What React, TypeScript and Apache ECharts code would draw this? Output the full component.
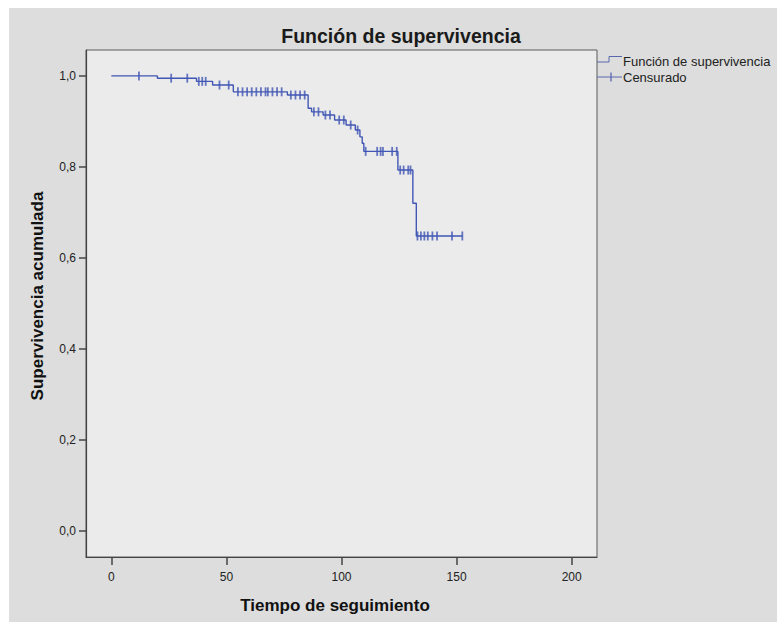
import React, { useEffect, useRef } from "react";
import * as echarts from "echarts";

// Kaplan-Meier step points: time at which survival changes, and survival after the change
const stepTimes = [0, 20, 37, 44, 53, 76.5, 85.5, 87, 92, 97, 102, 106, 108, 109, 109.7, 124.5, 131, 132.5, 152.5];
const stepSurvival = [1, 0.995, 0.988, 0.98, 0.965, 0.958, 0.929, 0.921, 0.914, 0.903, 0.892, 0.881, 0.866, 0.852, 0.834, 0.793, 0.72, 0.648, 0.648];

// Censored observation times
const censorTimes = [
  12, 26, 33, 38, 39.5, 41, 47, 51, 55, 57, 59, 61, 63, 65, 67, 68, 70, 72, 74,
  78, 80, 82, 84, 88, 90, 93, 95, 99, 101, 104, 107, 110.5, 115.5, 117, 118, 122,
  124, 125.5, 127, 129, 130, 133, 134.5, 136, 137.5, 139.5, 141.5, 148, 152.5,
];

const xTicks = [0, 50, 100, 150, 200];
const yTicks = [0, 0.2, 0.4, 0.6, 0.8, 1.0];

const FONT = "Liberation Sans, Arial, sans-serif";
const BLUE = "#4257b5";

function survivalAt(t: number): number {
  let s = stepSurvival[0];
  for (let i = 0; i < stepTimes.length; i++) {
    if (stepTimes[i] <= t) s = stepSurvival[i];
  }
  return s;
}

export default function App() {
  const ref = useRef<HTMLDivElement>(null);

  useEffect(() => {
    if (!ref.current) return;
    const chart = echarts.init(ref.current, undefined, { renderer: "svg" });
    const lineData = stepTimes.map((t, i) => [t, stepSurvival[i]]);
    const censorData = censorTimes.map((t) => [t, survivalAt(t)]);

    chart.setOption({
      animation: false,
      backgroundColor: "transparent",
      grid: {
        left: 86,
        top: 50,
        right: 180,
        bottom: 65,
        show: true,
        backgroundColor: "#ebebeb",
        borderColor: "#5a5a5a",
        borderWidth: 1,
      },
      xAxis: {
        type: "value",
        min: -11,
        max: 211,
        splitLine: { show: false },
        axisLine: { show: true, onZero: false, lineStyle: { color: "#444", width: 1.2 } },
        axisTick: {
          show: true,
          customValues: xTicks,
          length: 8,
          lineStyle: { color: "#444", width: 1.5 },
        },
        axisLabel: {
          customValues: xTicks,
          margin: 14,
          color: "#222",
          fontSize: 12,
          fontFamily: FONT,
        },
      },
      yAxis: {
        type: "value",
        min: -0.058,
        max: 1.057,
        splitLine: { show: false },
        axisLine: { show: true, onZero: false, lineStyle: { color: "#444", width: 1.2 } },
        axisTick: {
          show: true,
          customValues: yTicks,
          length: 7,
          lineStyle: { color: "#444", width: 1.5 },
        },
        axisLabel: {
          customValues: yTicks,
          margin: 10,
          color: "#222",
          fontSize: 12,
          fontFamily: FONT,
          formatter: (v: number) => v.toFixed(1).replace(".", ","),
        },
      },
      series: [
        {
          type: "line",
          name: "Función de supervivencia",
          data: lineData,
          step: "end",
          showSymbol: false,
          symbol: "none",
          lineStyle: { color: BLUE, width: 1.4 },
          z: 3,
        },
        {
          type: "scatter",
          name: "Censurado",
          data: censorData,
          symbol: "rect",
          symbolSize: [1.8, 9],
          itemStyle: { color: BLUE },
          z: 4,
        },
      ],
      graphic: [
        {
          type: "text",
          x: 401,
          y: 36,
          style: {
            text: "Función de supervivencia",
            fontSize: 19.5,
            fontWeight: "bold",
            fontFamily: FONT,
            fill: "#1a1a1a",
            align: "center",
            verticalAlign: "middle",
          },
        },
        {
          type: "text",
          x: 335,
          y: 605,
          style: {
            text: "Tiempo de seguimiento",
            fontSize: 17,
            fontWeight: "bold",
            fontFamily: FONT,
            fill: "#111",
            align: "center",
            verticalAlign: "middle",
          },
        },
        {
          type: "text",
          x: 37,
          y: 296,
          rotation: Math.PI / 2,
          style: {
            text: "Supervivencia acumulada",
            fontSize: 17,
            fontWeight: "bold",
            fontFamily: FONT,
            fill: "#111",
            align: "center",
            verticalAlign: "middle",
          },
        },
        {
          type: "polyline",
          shape: { points: [[597, 62], [609, 62], [609, 56.5], [622, 56.5]] },
          style: { stroke: "#5a68b0", lineWidth: 1, fill: "none" },
        },
        {
          type: "line",
          shape: { x1: 597, y1: 77, x2: 622, y2: 77 },
          style: { stroke: "#5a68b0", lineWidth: 1 },
        },
        {
          type: "line",
          shape: { x1: 611, y1: 72.5, x2: 611, y2: 81.5 },
          style: { stroke: "#5a68b0", lineWidth: 1.3 },
        },
        {
          type: "text",
          x: 623,
          y: 61,
          style: {
            text: "Función de supervivencia",
            fontSize: 13,
            fontFamily: FONT,
            fill: "#222",
            align: "left",
            verticalAlign: "middle",
          },
        },
        {
          type: "text",
          x: 623,
          y: 77,
          style: {
            text: "Censurado",
            fontSize: 13,
            fontFamily: FONT,
            fill: "#222",
            align: "left",
            verticalAlign: "middle",
          },
        },
      ],
    });

    return () => chart.dispose();
  }, []);

  return (
    <div style={{ position: "fixed", left: 0, top: 0, width: 777, height: 622, background: "#ffffff" }}>
      <div style={{ position: "absolute", left: 9, top: 8, right: 0, bottom: 0, background: "#dcdddc" }} />
      <div ref={ref} style={{ position: "absolute", left: 0, top: 0, width: 777, height: 622 }} />
    </div>
  );
}
